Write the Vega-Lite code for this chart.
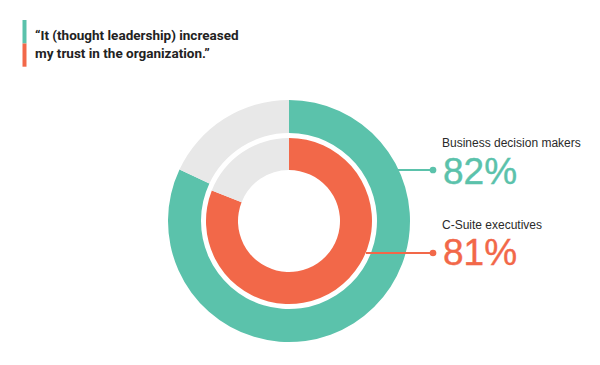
{
  "$schema": "https://vega.github.io/schema/vega-lite/v6.json",
  "width": 600,
  "height": 365,
  "autosize": {"type": "fit", "contains": "padding"},
  "padding": 0,
  "background": "white",
  "config": {"view": {"stroke": null}},
  "datasets": {
    "trust": [
      {"group": "Business decision makers", "answer": "Agree", "share": 0.82},
      {"group": "Business decision makers", "answer": "Other", "share": 0.18},
      {"group": "C-Suite executives", "answer": "Agree", "share": 0.81},
      {"group": "C-Suite executives", "answer": "Other", "share": 0.19}
    ],
    "headline": [
      {"quote": "“It (thought leadership) increased\nmy trust in the organization.”"}
    ]
  },
  "data": {"name": "trust"},
  "layer": [
    {
      "transform": [{"filter": "datum.group === 'Business decision makers'"}],
      "mark": {"type": "arc", "radius": 121, "radius2": 88},
      "encoding": {
        "theta": {"field": "share", "type": "quantitative", "stack": true, "scale": {"domain": [0, 1]}},
        "order": {"field": "answer", "sort": "ascending"},
        "color": {
          "condition": {"test": "datum.answer === 'Other'", "value": "#e8e8e8"},
          "field": "group", "type": "nominal",
          "scale": {"domain": ["Business decision makers", "C-Suite executives"], "range": ["#5bc2ab", "#f26849"]},
          "legend": null
        },
        "x": {"datum": 0, "type": "quantitative", "scale": {"domain": [-289, 311], "nice": false, "zero": false}, "axis": null},
        "y": {"datum": 0, "type": "quantitative", "scale": {"domain": [-144, 221], "nice": false, "zero": false}, "axis": null}
      }
    },
    {
      "transform": [{"filter": "datum.group === 'C-Suite executives'"}],
      "mark": {"type": "arc", "radius": 83, "radius2": 51},
      "encoding": {
        "theta": {"field": "share", "type": "quantitative", "stack": true, "scale": {"domain": [0, 1]}},
        "order": {"field": "answer", "sort": "ascending"},
        "color": {
          "condition": {"test": "datum.answer === 'Other'", "value": "#e8e8e8"},
          "field": "group", "type": "nominal",
          "scale": {"domain": ["Business decision makers", "C-Suite executives"], "range": ["#5bc2ab", "#f26849"]},
          "legend": null
        },
        "x": {"datum": 0, "type": "quantitative", "scale": {"domain": [-289, 311], "nice": false, "zero": false}, "axis": null},
        "y": {"datum": 0, "type": "quantitative", "scale": {"domain": [-144, 221], "nice": false, "zero": false}, "axis": null}
      }
    },
    {
      "transform": [{"filter": "datum.answer === 'Agree' && datum.group === 'Business decision makers'"}],
      "mark": {"type": "rule", "strokeWidth": 2},
      "encoding": {
        "x": {"datum": 106, "type": "quantitative", "scale": {"domain": [-289, 311], "nice": false, "zero": false}, "axis": null},
        "x2": {"datum": 144},
        "y": {"datum": 51, "type": "quantitative", "scale": {"domain": [-144, 221], "nice": false, "zero": false}, "axis": null},
        "color": {"field": "group", "type": "nominal", "scale": {"domain": ["Business decision makers", "C-Suite executives"], "range": ["#5bc2ab", "#f26849"]}, "legend": null}
      }
    },
    {
      "transform": [{"filter": "datum.answer === 'Agree' && datum.group === 'C-Suite executives'"}],
      "mark": {"type": "rule", "strokeWidth": 2},
      "encoding": {
        "x": {"datum": 77, "type": "quantitative", "scale": {"domain": [-289, 311], "nice": false, "zero": false}, "axis": null},
        "x2": {"datum": 144},
        "y": {"datum": -32, "type": "quantitative", "scale": {"domain": [-144, 221], "nice": false, "zero": false}, "axis": null},
        "color": {"field": "group", "type": "nominal", "scale": {"domain": ["Business decision makers", "C-Suite executives"], "range": ["#5bc2ab", "#f26849"]}, "legend": null}
      }
    },
    {
      "transform": [{"filter": "datum.answer === 'Agree' && datum.group === 'Business decision makers'"}],
      "mark": {"type": "point", "filled": true, "size": 45, "opacity": 1},
      "encoding": {
        "x": {"datum": 144, "type": "quantitative", "scale": {"domain": [-289, 311], "nice": false, "zero": false}, "axis": null},
        "y": {"datum": 51, "type": "quantitative", "scale": {"domain": [-144, 221], "nice": false, "zero": false}, "axis": null},
        "color": {"field": "group", "type": "nominal", "scale": {"domain": ["Business decision makers", "C-Suite executives"], "range": ["#5bc2ab", "#f26849"]}, "legend": null}
      }
    },
    {
      "transform": [{"filter": "datum.answer === 'Agree' && datum.group === 'C-Suite executives'"}],
      "mark": {"type": "point", "filled": true, "size": 45, "opacity": 1},
      "encoding": {
        "x": {"datum": 144, "type": "quantitative", "scale": {"domain": [-289, 311], "nice": false, "zero": false}, "axis": null},
        "y": {"datum": -32, "type": "quantitative", "scale": {"domain": [-144, 221], "nice": false, "zero": false}, "axis": null},
        "color": {"field": "group", "type": "nominal", "scale": {"domain": ["Business decision makers", "C-Suite executives"], "range": ["#5bc2ab", "#f26849"]}, "legend": null}
      }
    },
    {
      "transform": [{"filter": "datum.answer === 'Agree' && datum.group === 'Business decision makers'"}],
      "mark": {"type": "text", "align": "left", "baseline": "alphabetic", "font": "Liberation Sans", "fontSize": 12, "color": "#2a2a2a"},
      "encoding": {
        "text": {"field": "group"},
        "x": {"datum": 153, "type": "quantitative", "scale": {"domain": [-289, 311], "nice": false, "zero": false}, "axis": null},
        "y": {"datum": 74, "type": "quantitative", "scale": {"domain": [-144, 221], "nice": false, "zero": false}, "axis": null}
      }
    },
    {
      "transform": [{"filter": "datum.answer === 'Agree' && datum.group === 'C-Suite executives'"}],
      "mark": {"type": "text", "align": "left", "baseline": "alphabetic", "font": "Liberation Sans", "fontSize": 12, "color": "#2a2a2a"},
      "encoding": {
        "text": {"field": "group"},
        "x": {"datum": 153, "type": "quantitative", "scale": {"domain": [-289, 311], "nice": false, "zero": false}, "axis": null},
        "y": {"datum": -8, "type": "quantitative", "scale": {"domain": [-144, 221], "nice": false, "zero": false}, "axis": null}
      }
    },
    {
      "transform": [{"filter": "datum.answer === 'Agree' && datum.group === 'Business decision makers'"}],
      "mark": {"type": "text", "align": "left", "baseline": "alphabetic", "font": "Liberation Sans", "fontSize": 37, "strokeWidth": 0.4},
      "encoding": {
        "text": {"field": "share", "type": "quantitative", "format": ".0%"},
        "x": {"datum": 154, "type": "quantitative", "scale": {"domain": [-289, 311], "nice": false, "zero": false}, "axis": null},
        "y": {"datum": 37.5, "type": "quantitative", "scale": {"domain": [-144, 221], "nice": false, "zero": false}, "axis": null},
        "color": {"field": "group", "type": "nominal", "scale": {"domain": ["Business decision makers", "C-Suite executives"], "range": ["#5bc2ab", "#f26849"]}, "legend": null},
        "stroke": {"field": "group", "type": "nominal", "scale": {"domain": ["Business decision makers", "C-Suite executives"], "range": ["#5bc2ab", "#f26849"]}, "legend": null}
      }
    },
    {
      "transform": [{"filter": "datum.answer === 'Agree' && datum.group === 'C-Suite executives'"}],
      "mark": {"type": "text", "align": "left", "baseline": "alphabetic", "font": "Liberation Sans", "fontSize": 37, "strokeWidth": 0.4},
      "encoding": {
        "text": {"field": "share", "type": "quantitative", "format": ".0%"},
        "x": {"datum": 154, "type": "quantitative", "scale": {"domain": [-289, 311], "nice": false, "zero": false}, "axis": null},
        "y": {"datum": -44.3, "type": "quantitative", "scale": {"domain": [-144, 221], "nice": false, "zero": false}, "axis": null},
        "color": {"field": "group", "type": "nominal", "scale": {"domain": ["Business decision makers", "C-Suite executives"], "range": ["#5bc2ab", "#f26849"]}, "legend": null},
        "stroke": {"field": "group", "type": "nominal", "scale": {"domain": ["Business decision makers", "C-Suite executives"], "range": ["#5bc2ab", "#f26849"]}, "legend": null}
      }
    },
    {
      "transform": [{"filter": "datum.answer === 'Agree' && datum.group === 'Business decision makers'"}],
      "mark": {"type": "rule", "strokeWidth": 4},
      "encoding": {
        "x": {"datum": -264.5, "type": "quantitative", "scale": {"domain": [-289, 311], "nice": false, "zero": false}, "axis": null},
        "y": {"datum": 201, "type": "quantitative", "scale": {"domain": [-144, 221], "nice": false, "zero": false}, "axis": null},
        "y2": {"datum": 177.5},
        "color": {"field": "group", "type": "nominal", "scale": {"domain": ["Business decision makers", "C-Suite executives"], "range": ["#5bc2ab", "#f26849"]}, "legend": null}
      }
    },
    {
      "transform": [{"filter": "datum.answer === 'Agree' && datum.group === 'C-Suite executives'"}],
      "mark": {"type": "rule", "strokeWidth": 4},
      "encoding": {
        "x": {"datum": -264.5, "type": "quantitative", "scale": {"domain": [-289, 311], "nice": false, "zero": false}, "axis": null},
        "y": {"datum": 177.5, "type": "quantitative", "scale": {"domain": [-144, 221], "nice": false, "zero": false}, "axis": null},
        "y2": {"datum": 154.3},
        "color": {"field": "group", "type": "nominal", "scale": {"domain": ["Business decision makers", "C-Suite executives"], "range": ["#5bc2ab", "#f26849"]}, "legend": null}
      }
    },
    {
      "data": {"name": "headline"},
      "mark": {"type": "text", "align": "left", "baseline": "alphabetic", "font": "Roboto", "fontSize": 13.5, "fontWeight": "bold", "lineHeight": 18, "lineBreak": "\n", "color": "#222222"},
      "encoding": {
        "text": {"field": "quote"},
        "x": {"datum": -254, "type": "quantitative", "scale": {"domain": [-289, 311], "nice": false, "zero": false}, "axis": null},
        "y": {"datum": 181, "type": "quantitative", "scale": {"domain": [-144, 221], "nice": false, "zero": false}, "axis": null}
      }
    }
  ]
}
